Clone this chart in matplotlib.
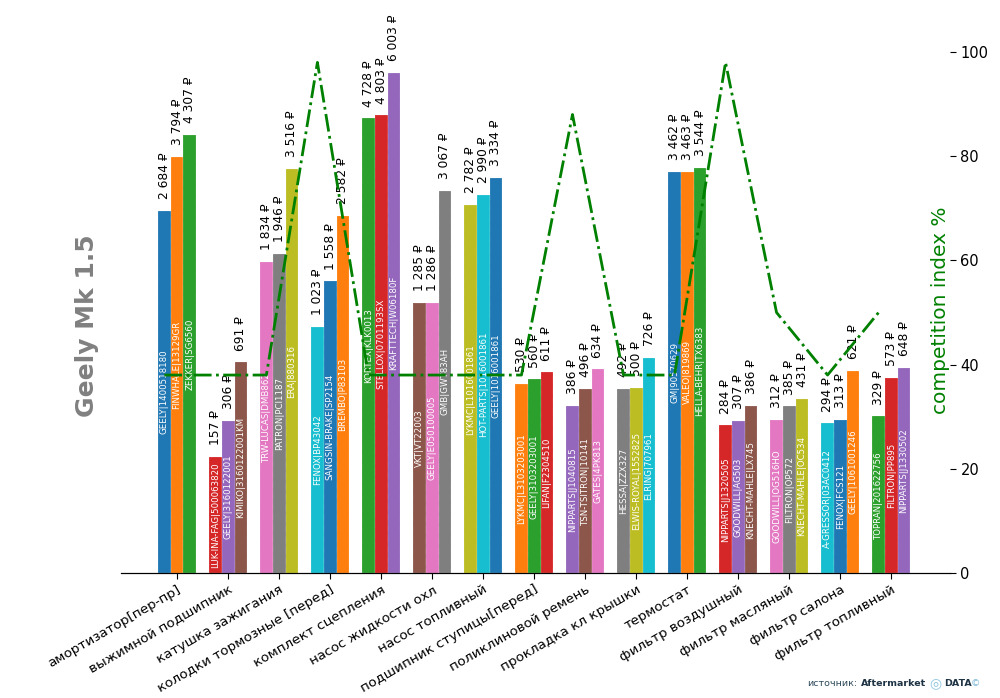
import matplotlib
matplotlib.use("Agg")
import matplotlib.pyplot as plt
import numpy as np

# ── Данные ──
categories = [
    "амортизатор[пер-пр]", "выжимной подшипник", "катушка зажигания",
    "колодки тормозные [перед]", "комплект сцепления", "насос жидкости охл",
    "насос топливный", "подшипник ступицы[перед]", "поликлиновой ремень",
    "прокладка кл крышки", "термостат", "фильтр воздушный",
    "фильтр масляный", "фильтр салона", "фильтр топливный",
]

part_names = [
    ["GEELY|1400518180", "FINWHALE|13129GR", "ZEKKER|SG6560"],
    ["LUK-INA-FAG|500063820", "GEELY|3160122001", "KIMIKO|3160122001KM"],
    ["TRW-LUCAS|DMB862", "PATRON|PCI1187", "ERA|880316"],
    ["FENOX|BP43042", "SANGSIN-BRAKE|SP2154", "BREMBO|P83103"],
    ["KORTEX|KLK0013", "STELLOX|0701193SX", "KRAFTTECH|W06180F"],
    ["VKT|VT22003", "GEELY|E050100005", "GMB|GWT83AH"],
    ["LYKMC|L1016001861", "HOT-PARTS|1016001861", "GEELY|1016001861"],
    ["LYKMC|L3103203001", "GEELY|3103203001", "LIFAN|F2304510"],
    ["NIPPARTS|J1040815", "TSN-TSITRON|10141", "GATES|4PK813"],
    ["HESSA|ZZX327", "ELWIS-ROYAL|1552825", "ELRING|707961"],
    ["GM|90570629", "VALEO|819869", "HELLA-BEHR|TX6383"],
    ["NIPPARTS|J1320505", "GOODWILL|AG503", "KNECHT-MAHLE|LX745"],
    ["GOODWILL|OG516HO", "FILTRON|OP572", "KNECHT-MAHLE|OC534"],
    ["A-GRESSOR|03AC0412", "FENOX|FCS121", "GEELY|1061001246"],
    ["TOPRAN|201622756", "FILTRON|PP895", "NIPPARTS|J1330502"],
]

prices = [
    [2684, 3794, 4307],
    [157, 306, 691],
    [1834, 1946, 3516],
    [1023, 1558, 2582],
    [4728, 4803, 6003],
    [1285, 1286, 3067],
    [2782, 2990, 3334],
    [530, 560, 611],
    [386, 496, 634],
    [492, 500, 726],
    [3462, 3463, 3544],
    [284, 307, 386],
    [312, 385, 431],
    [294, 313, 621],
    [329, 573, 648],
]

competition = [38, 38, 38, 98, 38, 38, 38, 38, 88, 38, 38, 98, 50, 38, 50]


def fwd(v):
    return np.power(np.clip(v, 0, None), 0.4)


def inv(t):
    return np.power(np.clip(t, 0, None), 2.5)


def fmt_price(v):
    return f"{v:,}".replace(",", " ") + " ₽"


colors = plt.rcParams["axes.prop_cycle"].by_key()["color"]

fig = plt.figure(figsize=(10, 6.98), dpi=100)
ax = fig.add_axes([0.121, 0.179, 0.829, 0.754])
ax.set_yscale("function", functions=(fwd, inv))

width = 0.25
x = np.arange(len(categories))
k = 0
for i in range(len(categories)):
    for j in range(3):
        xpos = x[i] + (j - 1) * width
        v = prices[i][j]
        ax.bar(xpos, v, width, color=colors[k % 10], edgecolor="white",
               linewidth=0.3, linestyle=":")
        # подпись цены над столбцом
        ax.annotate(fmt_price(v), (xpos, v), xytext=(0, 8.5),
                    textcoords="offset points", rotation=90,
                    ha="center", va="bottom", fontsize=8.8, color="black")
        # название детали внутри столбца
        ax.text(xpos, inv(fwd(v) / 2), part_names[i][j], rotation=90,
                ha="center", va="center", fontsize=6.2, color="white")
        k += 1

ax.set_xlim(-1.1, 15.15)
ax.set_ylim(0, inv(fwd(max(max(p) for p in prices)) * 1.052))
ax.set_xticks(x)
ax.set_xticklabels(categories, rotation=30, ha="right", rotation_mode="anchor",
                   fontsize=9.7)
ax.tick_params(axis="x", length=4, pad=3)
ax.set_yticks([])
for s in ["left", "right", "top"]:
    ax.spines[s].set_visible(False)

ax.set_ylabel("Geely Mk 1.5", fontsize=18, fontweight="bold", color="gray")
ax.yaxis.set_label_coords(-0.026, 0.47)

# ── Индекс конкуренции ──
ax2 = ax.twinx()
ax2.plot(x - width, competition, linestyle="-.", color="green", linewidth=2)
ax2.set_ylim(0, 101)
ax2.set_yticks([0, 20, 40, 60, 80, 100])
ax2.tick_params(axis="y", labelsize=10.5, length=4)
for s in ["left", "right", "top"]:
    ax2.spines[s].set_visible(False)
ax2.set_ylabel("competition index %", fontsize=14.5, color="green")
ax2.yaxis.set_label_coords(0.977, 0.5)

# ── Источник ──
fig.text(0.807, 0.021, "источник:", fontsize=6.8, color="#2e4a5a", va="center")
fig.text(0.861, 0.021, "Aftermarket", fontsize=6.8, fontweight="bold",
         color="#1e3344", va="center")
fig.text(0.935, 0.021, "◎", fontsize=10, color="#8fc6e0", va="center", ha="center")
fig.text(0.944, 0.021, "DATA", fontsize=6.8, fontweight="bold",
         color="#1e3344", va="center")
fig.text(0.971, 0.021, "©", fontsize=6.8, color="#7fb8d8", va="center")

plt.savefig("out.png", dpi=100)
